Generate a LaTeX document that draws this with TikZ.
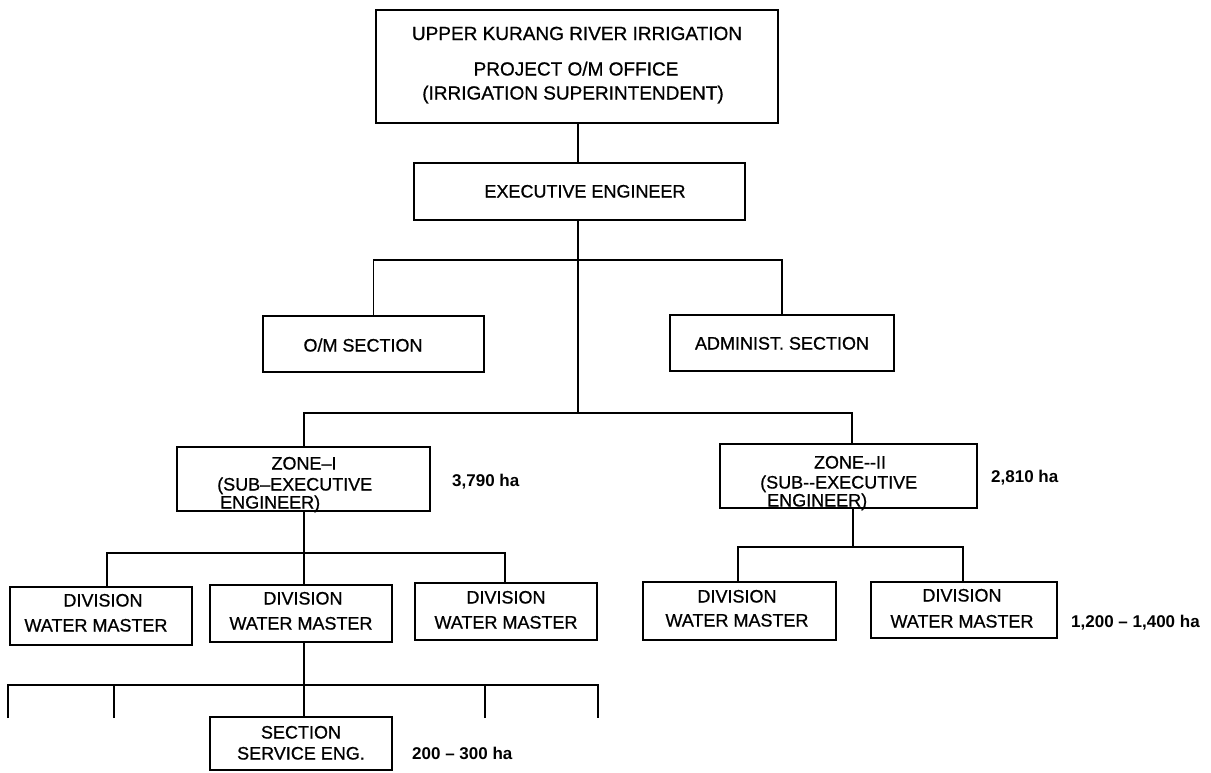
\documentclass[tikz,border=0pt]{standalone}
\usepackage{fontspec}
\setmainfont{Liberation Sans}
\newfontfamily\scanfont{Liberation Sans}[FakeBold=0.8]
\newfontfamily\scanbold{Liberation Sans Bold}
\begin{document}
\begin{tikzpicture}[x=1pt,y=-1pt,
  box/.style={draw, line width=1.4pt, inner sep=0pt},
  lbl/.style={font=\scanfont\fontsize{18}{20}\selectfont, inner sep=0pt, text height=13pt, text depth=0pt},
  biglbl/.style={lbl, font=\scanfont\fontsize{19}{21}\selectfont},
  area/.style={font=\scanbold\fontsize{17}{19}\selectfont, inner sep=0pt, text height=12pt, text depth=0pt, anchor=west},
  link/.style={line width=1.9pt}]
\useasboundingbox (0,0) rectangle (1211,772);

% boxes
\node[box, minimum width=402pt, minimum height=113pt] (top) at (577,66.5) {};
\node[box, minimum width=331pt, minimum height=57pt] (exec) at (579.5,191.5) {};
\node[box, minimum width=221pt, minimum height=56pt] (om) at (373.5,344) {};
\node[box, minimum width=224pt, minimum height=56pt] (adm) at (782,343) {};
\node[box, minimum width=253pt, minimum height=64pt] (z1) at (303.5,479) {};
\node[box, minimum width=257pt, minimum height=64pt] (z2) at (848.5,476) {};
\node[box, minimum width=182pt, minimum height=58pt] (d1) at (101,616) {};
\node[box, minimum width=182pt, minimum height=57pt] (d2) at (301,613.5) {};
\node[box, minimum width=182pt, minimum height=57pt] (d3) at (506,611.5) {};
\node[box, minimum width=193pt, minimum height=58pt] (d4) at (739.5,611) {};
\node[box, minimum width=186pt, minimum height=56pt] (d5) at (964,610) {};
\node[box, minimum width=182pt, minimum height=53pt] (sec) at (301,743.5) {};

% texts
\node[biglbl] (t1) at (577,33.5) {UPPER KURANG RIVER IRRIGATION};
\node[biglbl] (t2) at (576,69) {PROJECT O/M OFFICE};
\node[biglbl] (t3) at (573,93) {(IRRIGATION SUPERINTENDENT)};
\node[lbl] (te) at (585,191) {EXECUTIVE ENGINEER};
\node[lbl] (tom) at (363,345) {O/M SECTION};
\node[lbl] (tadm) at (782,343) {ADMINIST. SECTION};
\node[lbl] (tz1a) at (304,463) {ZONE–I};
\node[lbl, anchor=west] (tz1b) at (217,484) {(SUB–EXECUTIVE};
\node[lbl, anchor=west] (tz1c) at (220,502) {ENGINEER)};
\node[lbl] (tz2a) at (850,462) {ZONE-{}-II};
\node[lbl, anchor=west] (tz2b) at (760,482) {(SUB-{}-EXECUTIVE};
\node[lbl, anchor=west] (tz2c) at (767,500) {ENGINEER)};
\node[lbl] (td1a) at (103,600) {DIVISION};
\node[lbl] (td1b) at (96,625) {WATER MASTER};
\node[lbl] (td2a) at (303,598) {DIVISION};
\node[lbl] (td2b) at (301,623) {WATER MASTER};
\node[lbl] (td3a) at (506,597) {DIVISION};
\node[lbl] (td3b) at (506,622) {WATER MASTER};
\node[lbl] (td4a) at (737,596) {DIVISION};
\node[lbl] (td4b) at (737,620) {WATER MASTER};
\node[lbl] (td5a) at (962,595) {DIVISION};
\node[lbl] (td5b) at (962,621) {WATER MASTER};
\node[lbl] (ts1) at (301,732) {SECTION};
\node[lbl] (ts2) at (301,753) {SERVICE ENG.};
\node[area] (a1) at (452,480) {3,790 ha};
\node[area] (a2) at (991,476) {2,810 ha};
\node[area] (a3) at (1071,621) {1,200 – 1,400 ha};
\node[area] (a4) at (412,753) {200 – 300 ha};

% connector points
\coordinate (b1) at (578,260);
\coordinate (b2) at (578,413);
\coordinate (b3) at (304,553);
\coordinate (b4) at (304,685);
\coordinate (b5) at (853,547);
\coordinate (k1) at (8,718);
\coordinate (k2) at (114,718);
\coordinate (k3) at (485,718);
\coordinate (k4) at (598,718);

% connectors
\draw[link] (top.south -| b1) -- (exec.north -| b1);
\draw[link] (exec.south -| b1) -- (b2);
\draw[link] (om.north) -- (om.north |- b1) -- (adm.north |- b1) -- (adm.north);
\draw[link] (z1.north -| b3) -- (b3 |- b2) -- (852,413) -- (z2.north -| 852,0);
\draw[link] (z1.south -| b3) -- (d2.north -| b3);
\draw[link] (d1.north -| 107,0) -- (107,553) -- (505,553) -- (d3.north -| 505,0);
\draw[link] (d2.south -| b3) -- (sec.north -| b3);
\draw[link] (k1) -- (k1 |- b4) -- (k4 |- b4) -- (k4);
\draw[link] (k2) -- (k2 |- b4);
\draw[link] (k3) -- (k3 |- b4);
\draw[link] (z2.south -| b5) -- (b5);
\draw[link] (d4.north -| 738,0) -- (738,547) -- (963,547) -- (d5.north -| 963,0);
\end{tikzpicture}
\end{document}
